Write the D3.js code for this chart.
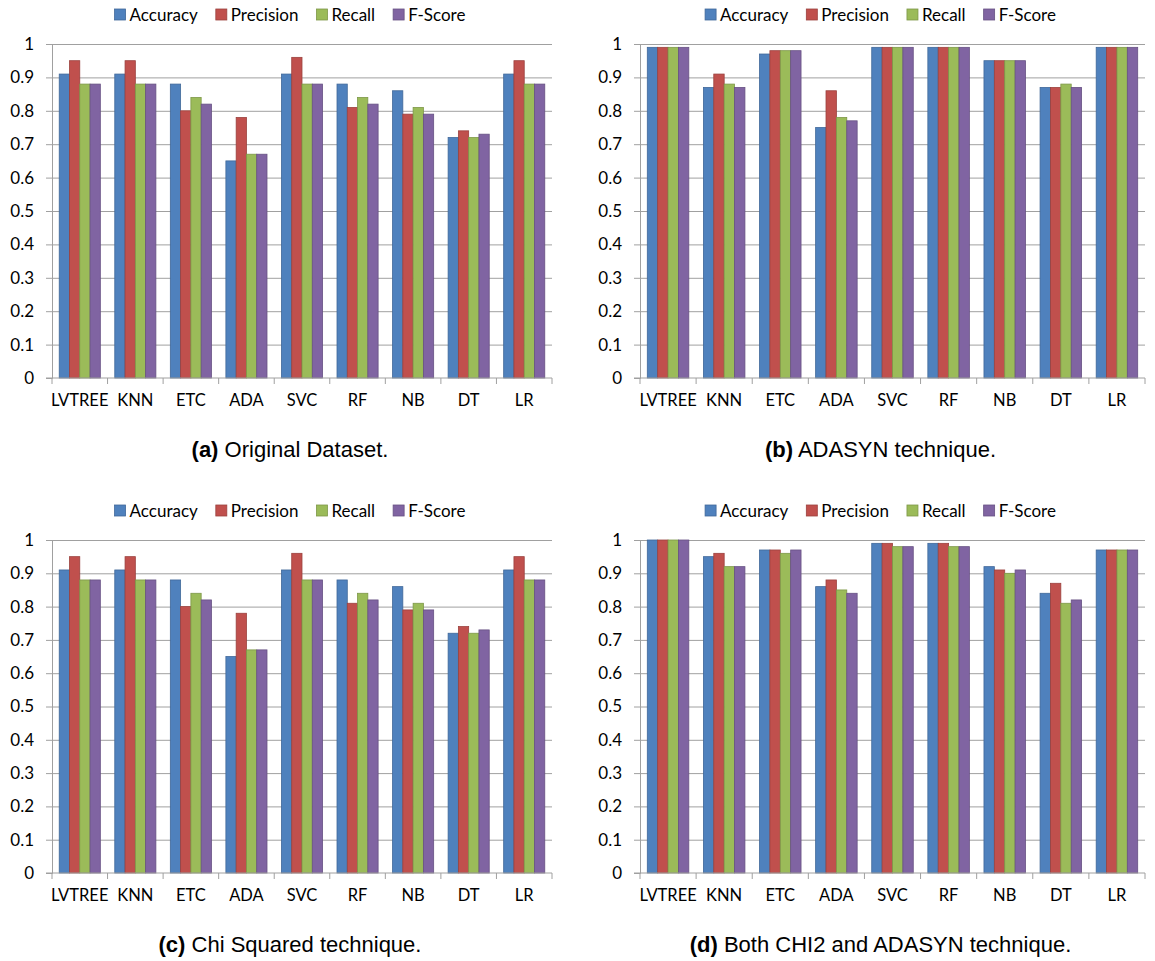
<!DOCTYPE html>
<html>
<head>
<meta charset="utf-8">
<script src="https://cdn.jsdelivr.net/npm/d3@7"></script>
<style>
  body { margin: 0; background: #fff; }
  .tick text { font-family: Lato, "Open Sans", sans-serif; }
</style>
</head>
<body>
<div id="chart"></div>
<script>
var categories = ["LVTREE", "KNN", "ETC", "ADA", "SVC", "RF", "NB", "DT", "LR"];
var metrics = ["Accuracy", "Precision", "Recall", "F-Score"];
var colors = ["#4F81BD", "#C0504D", "#9BBB59", "#8064A2"];
var yTicks = [0, 0.1, 0.2, 0.3, 0.4, 0.5, 0.6, 0.7, 0.8, 0.9, 1];

// rows: Accuracy, Precision, Recall, F-Score
var originalData = [
    [0.91, 0.91, 0.88, 0.65, 0.91, 0.88, 0.86, 0.72, 0.91],
    [0.95, 0.95, 0.80, 0.78, 0.96, 0.81, 0.79, 0.74, 0.95],
    [0.88, 0.88, 0.84, 0.67, 0.88, 0.84, 0.81, 0.72, 0.88],
    [0.88, 0.88, 0.82, 0.67, 0.88, 0.82, 0.79, 0.73, 0.88]
];
var adasynData = [
    [0.99, 0.87, 0.97, 0.75, 0.99, 0.99, 0.95, 0.87, 0.99],
    [0.99, 0.91, 0.98, 0.86, 0.99, 0.99, 0.95, 0.87, 0.99],
    [0.99, 0.88, 0.98, 0.78, 0.99, 0.99, 0.95, 0.88, 0.99],
    [0.99, 0.87, 0.98, 0.77, 0.99, 0.99, 0.95, 0.87, 0.99]
];
var chiData = [
    [0.91, 0.91, 0.88, 0.65, 0.91, 0.88, 0.86, 0.72, 0.91],
    [0.95, 0.95, 0.80, 0.78, 0.96, 0.81, 0.79, 0.74, 0.95],
    [0.88, 0.88, 0.84, 0.67, 0.88, 0.84, 0.81, 0.72, 0.88],
    [0.88, 0.88, 0.82, 0.67, 0.88, 0.82, 0.79, 0.73, 0.88]
];
var bothData = [
    [1.00, 0.95, 0.97, 0.86, 0.99, 0.99, 0.92, 0.84, 0.97],
    [1.00, 0.96, 0.97, 0.88, 0.99, 0.99, 0.91, 0.87, 0.97],
    [1.00, 0.92, 0.96, 0.85, 0.98, 0.98, 0.90, 0.81, 0.97],
    [1.00, 0.92, 0.97, 0.84, 0.98, 0.98, 0.91, 0.82, 0.97]
];

var panels = [
    { data: originalData, letter: "(a)", caption: " Original Dataset.", left: 52, right: 552, top: 44, bottom: 378 },
    { data: adasynData, letter: "(b)", caption: " ADASYN technique.", left: 640, right: 1145, top: 44, bottom: 378 },
    { data: chiData, letter: "(c)", caption: " Chi Squared technique.", left: 52, right: 552, top: 540, bottom: 873 },
    { data: bothData, letter: "(d)", caption: " Both CHI2 and ADASYN technique.", left: 640, right: 1145, top: 540, bottom: 873 }
];

var width = 1155, height = 961;
var svg = d3.select("#chart").append("svg")
    .attr("width", width)
    .attr("height", height);

var labelFont = "Lato, 'Open Sans', sans-serif";
var gridColor = "#a0a0a0";

panels.forEach(function (p) {
    var g = svg.append("g");

    var x = d3.scaleBand()
        .domain(categories)
        .range([p.left, p.right])
        .paddingInner(0.26)
        .paddingOuter(0.13);

    var x1 = d3.scaleBand()
        .domain(metrics)
        .range([0, x.bandwidth()]);

    var y = d3.scaleLinear()
        .domain([0, 1])
        .range([p.bottom, p.top]);

    // gridlines
    g.append("g")
        .attr("transform", "translate(" + p.left + ",0)")
        .call(d3.axisLeft(y).tickValues(yTicks.slice(1)).tickSize(-(p.right - p.left)).tickFormat(""))
        .call(function (s) {
            s.select(".domain").remove();
            s.selectAll("line").attr("stroke", gridColor);
        });

    // y axis
    g.append("g")
        .attr("transform", "translate(" + p.left + ",0)")
        .call(d3.axisLeft(y).tickValues(yTicks).tickSize(6).tickPadding(12)
            .tickFormat(function (d) { return String(+d.toFixed(1)); }))
        .call(function (s) {
            s.select(".domain").attr("stroke", gridColor);
            s.selectAll("line").attr("stroke", gridColor);
            s.selectAll("text").attr("font-size", 17).attr("fill", "#000");
        });

    // bars
    var groups = g.append("g")
        .selectAll("g")
        .data(categories)
        .enter().append("g")
        .attr("transform", function (c) { return "translate(" + x(c) + ",0)"; });

    groups.selectAll("rect")
        .data(function (c, i) {
            return metrics.map(function (m, j) { return { metric: m, value: p.data[j][i], idx: j }; });
        })
        .enter().append("rect")
        .attr("x", function (d) { return x1(d.metric); })
        .attr("y", function (d) { return y(d.value); })
        .attr("width", x1.bandwidth())
        .attr("height", function (d) { return y(0) - y(d.value); })
        .attr("fill", function (d) { return colors[d.idx]; })
        .attr("stroke", function (d) { return d3.color(colors[d.idx]).darker(0.6); })
        .attr("stroke-width", 0.8);

    // x axis
    var step = x.step();
    var boundaries = categories.map(function (c) { return x(c) - step * 0.13; }).concat([p.right]);
    g.append("line")
        .attr("x1", p.left - 6).attr("x2", p.right)
        .attr("y1", p.bottom).attr("y2", p.bottom)
        .attr("stroke", gridColor);
    g.append("g").selectAll("line")
        .data(boundaries)
        .enter().append("line")
        .attr("x1", function (d) { return d; })
        .attr("x2", function (d) { return d; })
        .attr("y1", p.bottom)
        .attr("y2", p.bottom + 6)
        .attr("stroke", gridColor);

    g.append("g").selectAll("text")
        .data(categories)
        .enter().append("text")
        .attr("x", function (c) { return x(c) + x.bandwidth() / 2; })
        .attr("y", p.bottom + 28)
        .attr("text-anchor", "middle")
        .attr("font-family", labelFont)
        .attr("font-size", 16.5)
        .text(function (c) { return c; });

    // legend
    var legend = g.append("g");
    var lx = 0;
    metrics.forEach(function (m, i) {
        var item = legend.append("g").attr("transform", "translate(" + lx + ",0)");
        item.append("rect")
            .attr("x", 0).attr("y", -6)
            .attr("width", 11).attr("height", 11)
            .attr("fill", colors[i])
            .attr("stroke", d3.color(colors[i]).darker(0.6))
            .attr("stroke-width", 0.8);
        var t = item.append("text")
            .attr("x", 15).attr("y", 5.5)
            .attr("font-family", labelFont)
            .attr("font-size", 17)
            .text(m);
        lx += 15 + t.node().getComputedTextLength() + 18;
    });
    var legendW = lx - 18;
    var cx = (p.left + p.right) / 2 - 12;
    legend.attr("transform", "translate(" + (cx - legendW / 2) + "," + (p.top - 29) + ")");

    // caption
    var cap = g.append("text")
        .attr("x", cx)
        .attr("y", p.bottom + 79)
        .attr("text-anchor", "middle")
        .attr("font-family", "'Liberation Sans', Arial, sans-serif")
        .attr("font-size", 22);
    cap.append("tspan").attr("font-weight", "bold").text(p.letter);
    cap.append("tspan").text(p.caption);
});
</script>
</body>
</html>
